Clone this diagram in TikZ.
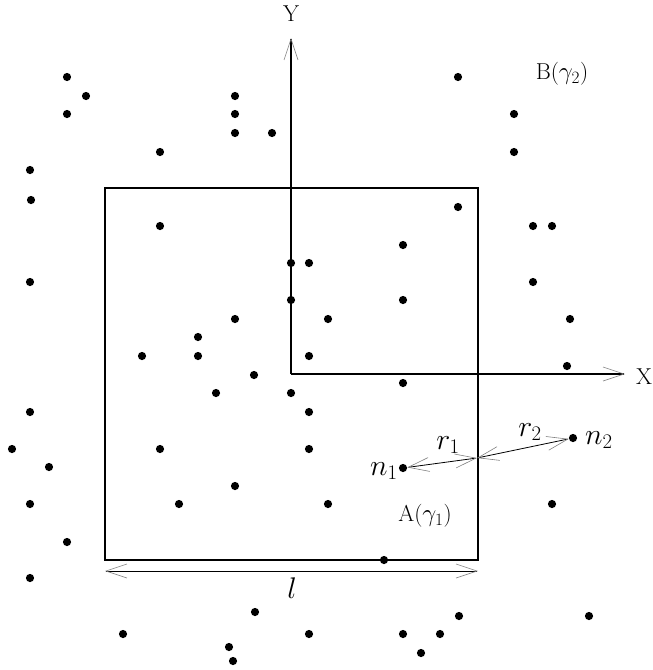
\documentclass[tikz,border=0pt]{standalone}
\usetikzlibrary{arrows.meta}
\newcommand{\lblmath}[1]{\scalebox{1.2}{$#1$}}
\tikzset{
  barb/.tip={Straight Barb[length=21pt,width=14pt,line width=0.6pt,color=gray]},
  dot/.style={circle,fill=black,inner sep=0pt,minimum size=8.2pt},
  txt/.style={inner sep=0pt,font=\fontsize{23}{27}\selectfont},
  mtxt/.style={inner sep=0pt,font=\fontsize{24}{28}\selectfont},
  axis/.style={line width=1.4pt,-barb},
  dist/.style={line width=0.8pt,barb-barb}
}
\begin{document}
\begin{tikzpicture}[x=1pt,y=-1pt]
    \useasboundingbox (0,0) rectangle (653,670);
    % region A
    \draw[line width=2.1pt] (105,188) rectangle (478,560);
    % axes
    \coordinate (O) at (291,374);
    \coordinate (ytip) at (291,38);
    \coordinate (xtip) at (625,374);
    \draw[axis] (O) -- (ytip);
    \draw[axis] (O) -- (xtip);
    \node[txt] (ylab) at (291,14) {Y};
    \node[txt] (xlab) at (644,377) {X};
    % scattered points
    \foreach \px/\py [count=\i] in {
        67/77, 86/96, 67/114, 235/96, 235/114, 235/133, 272/133, 160/152,
        30/170, 31/200, 160/226, 458/77, 514/114, 514/152, 458/207, 533/226,
        552/226, 30/282, 291/263, 309/263, 291/300, 235/319, 328/319, 198/337,
        142/356, 198/356, 309/356, 254/375, 216/393, 291/393, 309/412, 30/412,
        403/245, 403/300, 533/282, 570/319, 567/366, 403/383, 12/449, 160/449,
        309/449, 49/467, 235/486, 30/504, 179/504, 328/504, 67/542, 30/578,
        255/612, 123/634, 309/634, 229/647, 233/661, 552/504, 384/560, 459/616,
        589/616, 403/634, 440/634, 421/653}
      \node[dot] (p\i) at (\px,\py) {};
    % the two particles
    \node[dot] (n1) at (403,468) {};
    \node[dot] (n2) at (573,438) {};
    \coordinate (edge) at (477,458);
    \draw[dist] (n1) -- (edge);
    \draw[dist] (edge) -- (n2);
    \node[mtxt] (n1lab) at (384,471) {\lblmath{n_1}};
    \node[mtxt] (n2lab) at (599,440) {\lblmath{n_2}};
    \node[mtxt] (r1lab) at (448,445) {\lblmath{r_1}};
    \node[mtxt] (r2lab) at (530,432) {\lblmath{r_2}};
    % side length
    \coordinate (la) at (105,571);
    \coordinate (lb) at (478,571);
    \draw[dist] (la) -- (lb);
    \node[mtxt] (llab) at (292,588) {\lblmath{l}};
    \node[txt] (alab) at (425,516) {A($\gamma_1$)};
    \node[txt] (blab) at (562,74) {B($\gamma_2$)};
\end{tikzpicture}
\end{document}
